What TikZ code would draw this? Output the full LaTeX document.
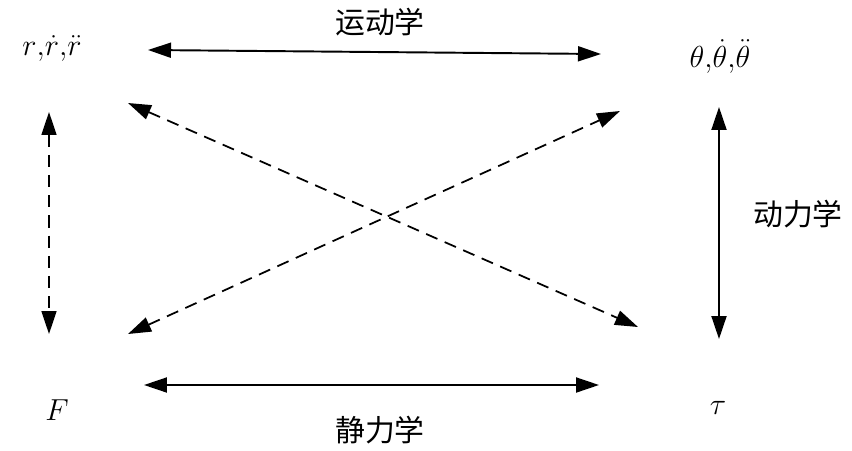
\documentclass[tikz,border=0pt]{standalone}
\usepackage{fontspec}
\newfontfamily\cjk{Noto Sans CJK SC}
\usepackage{tikz}
\usetikzlibrary{arrows.meta}

\begin{document}
\begin{tikzpicture}[x=0.02cm, y=-0.02cm,
  var/.style={font=\fontsize{16}{19}\selectfont, inner sep=0pt},
  lab/.style={font=\cjk\fontsize{17}{20}\selectfont, inner sep=0pt},
  arr/.style={{Triangle[length=4.6mm, width=3mm]}-{Triangle[length=4.6mm, width=3mm]}, line width=1.1pt},
  darr/.style={arr, line width=1pt, dash pattern=on 7pt off 4.5pt}]
\useasboundingbox (0,0) rectangle (852,450);
\node[var] (pos) at (52,48) {$r{,}\dot{r}{,}\ddot{r}$};
\node[var] (ang) at (720,56) {$\theta{,}\dot{\theta}{,}\ddot{\theta}$};
\node[var] (frc) at (57,410) {$F$};
\node[var] (trq) at (718,408) {$\tau$};
\node[lab] (kin) at (380,22) {运动学};
\node[lab] (sta) at (380,430) {静力学};
\node[lab] (dyn) at (798,214) {动力学};
% arrow ends
\coordinate (t1) at (148,50); \coordinate (t2) at (601,54);
\coordinate (b1) at (144,385); \coordinate (b2) at (599,385);
\coordinate (l1) at (49,112); \coordinate (l2) at (49,334);
\coordinate (r1) at (719,107); \coordinate (r2) at (719,339);
\coordinate (d1) at (128,103); \coordinate (d2) at (638,327);
\coordinate (e1) at (128,334); \coordinate (e2) at (620,111);
\draw[arr] (t1) -- (t2); \draw[arr] (b1) -- (b2); \draw[arr] (r1) -- (r2);
\draw[darr] (l1) -- (l2); \draw[darr] (d1) -- (d2); \draw[darr] (e1) -- (e2);
\end{tikzpicture}
\end{document}
